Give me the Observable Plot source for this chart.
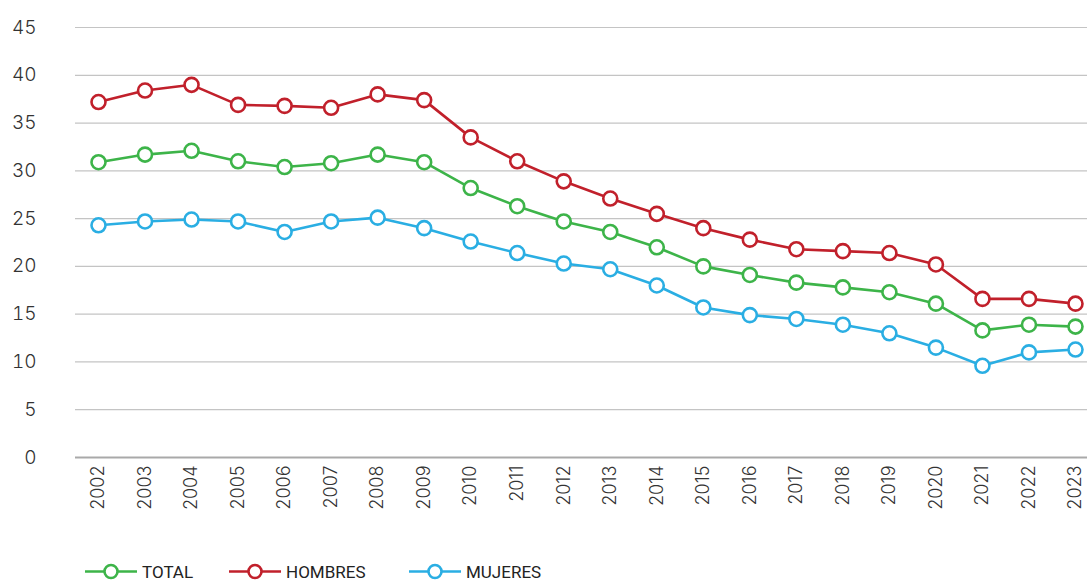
<!DOCTYPE html>
<html>
<head>
<meta charset="utf-8">
<script src="https://cdn.jsdelivr.net/npm/d3@7"></script>
<script src="https://cdn.jsdelivr.net/npm/@observablehq/plot@0.6"></script>
<style>
  html, body { margin: 0; padding: 0; background: #fff; }
  #chart svg { display: block; }
  #legend { height: 19px; position: relative; font-family: Roboto, "Open Sans", sans-serif; font-size: 17px; color: #222; }
  .item { position: absolute; top: 0; display: flex; align-items: center; height: 19px; }
  .item svg { margin-right: 3px; }
</style>
</head>
<body>
<div id="chart"></div>
<div id="legend"></div>
<script>
const years = [2002,2003,2004,2005,2006,2007,2008,2009,2010,2011,2012,2013,2014,2015,2016,2017,2018,2019,2020,2021,2022,2023];
const total   = [30.9,31.7,32.1,31.0,30.4,30.8,31.7,30.9,28.2,26.3,24.7,23.6,22.0,20.0,19.1,18.3,17.8,17.3,16.1,13.3,13.9,13.7];
const hombres = [37.2,38.4,39.0,36.9,36.8,36.6,38.0,37.4,33.5,31.0,28.9,27.1,25.5,24.0,22.8,21.8,21.6,21.4,20.2,16.6,16.6,16.1];
const mujeres = [24.3,24.7,24.9,24.7,23.6,24.7,25.1,24.0,22.6,21.4,20.3,19.7,18.0,15.7,14.9,14.5,13.9,13.0,11.5,9.6,11.0,11.3];
const seriesNames = ["TOTAL","HOMBRES","MUJERES"];
const seriesColors = ["#3db449","#c1202b","#2aaee3"];
const yTicks = [0,5,10,15,20,25,30,35,40,45];

const seriesValues = [total, hombres, mujeres];
const data = [];
seriesNames.forEach((s, i) => years.forEach((y, j) => data.push({serie: s, year: y, value: seriesValues[i][j]})));

const chart = Plot.plot({
  width: 1087,
  height: 562,
  marginLeft: 75,
  marginRight: 0,
  marginTop: 27,
  marginBottom: 105,
  style: {fontFamily: "Inter, Roboto, sans-serif", color: "#333", background: "#fff"},
  x: {type: "point", domain: years, range: [98, 1075], padding: 0, round: false},
  y: {domain: [0, 45], range: [457, 27]},
  color: {domain: seriesNames, range: seriesColors},
  marks: [
    Plot.ruleY(yTicks.filter(d => d > 0), {stroke: "#c4c4c4", strokeWidth: 1.2, strokeOpacity: 1}),
    Plot.ruleY([0], {stroke: "#a9a9a9", strokeWidth: 2}),
    Plot.axisY({ticks: yTicks, tickSize: 0, tickPadding: 39, fontSize: 19, fontWeight: 300, label: null, fill: "#333"}),
    Plot.axisX({tickSize: 0, tickRotate: -90, tickPadding: 8, fontSize: 18, fontWeight: 300, label: null, fill: "#333", tickFormat: d => String(d)}),
    Plot.line(data, {x: "year", y: "value", z: "serie", stroke: "serie", strokeWidth: 2.6}),
    Plot.dot(data, {x: "year", y: "value", stroke: "serie", fill: "white", r: 7, strokeWidth: 2.6})
  ]
});
document.getElementById("chart").appendChild(chart);

const legend = document.getElementById("legend");
const lefts = [85, 229, 409];
seriesNames.forEach((s, i) => {
  const c = seriesColors[i];
  const div = document.createElement("div");
  div.className = "item";
  div.style.left = lefts[i] + "px";
  div.innerHTML = `<svg width="54" height="19"><line x1="0" x2="52" y1="9.5" y2="9.5" stroke="${c}" stroke-width="2.6"/><circle cx="26" cy="9.5" r="6.5" fill="white" stroke="${c}" stroke-width="2.6"/></svg><span>${s}</span>`;
  legend.appendChild(div);
});
</script>
</body>
</html>
